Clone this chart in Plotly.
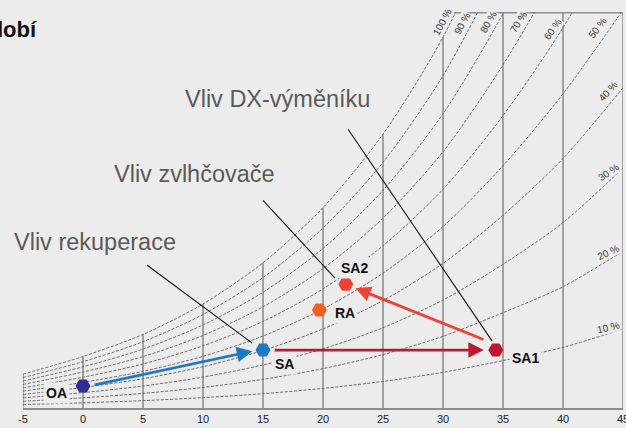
import plotly.graph_objects as go

# dry-bulb temperature, °C
TEMPS = [-5, 0, 5, 10, 15, 20, 25, 30, 35, 40, 45]

# humidity ratio (g/kg) of each relative-humidity curve at TEMPS
RH100 = [2.48, 3.78, 5.40, 7.63, 10.65, 14.70, 20.09, 27.21, 36.59, 47.9, 61.8]
RH90 = [2.23, 3.40, 4.86, 6.86, 9.57, 13.20, 18.02, 24.38, 32.74, 42.8, 55.0]
RH80 = [1.98, 3.02, 4.32, 6.09, 8.49, 11.70, 15.97, 21.58, 28.93, 37.7, 48.4]
RH70 = [1.73, 2.64, 3.77, 5.32, 7.42, 10.22, 13.93, 18.80, 25.17, 32.8, 41.9]
RH60 = [1.48, 2.26, 3.23, 4.56, 6.35, 8.74, 11.90, 16.05, 21.45, 27.9, 35.6]
RH50 = [1.24, 1.88, 2.69, 3.79, 5.28, 7.26, 9.89, 13.31, 17.77, 23.05, 29.2]
RH40 = [0.99, 1.51, 2.15, 3.03, 4.22, 5.80, 7.88, 10.61, 14.14, 18.3, 23.5]
RH30 = [0.74, 1.13, 1.61, 2.27, 3.16, 4.34, 5.89, 7.92, 10.54, 13.6, 17.6]
RH20 = [0.49, 0.75, 1.07, 1.51, 2.10, 2.89, 3.92, 5.26, 6.99, 8.9, 11.5]
RH10 = [0.25, 0.38, 0.54, 0.76, 1.05, 1.44, 1.95, 2.62, 3.48, 4.45, 5.8]

RH_LABELS = ["100 %", "90 %", "80 %", "70 %", "60 %", "50 %", "40 %", "30 %", "20 %", "10 %"]
RH_LABEL_X = [29.9, 31.6, 33.75, 36.25, 39.1, 42.9, 43.75, 43.75, 43.75, 43.75]
RH_LABEL_Y = [28.3, 28.2, 28.3, 28.3, 27.8, 27.9, 23.2, 17.3, 11.4, 5.9]
RH_LABEL_ANGLE = [-62, -62, -60, -58, -55, -52, -48, -35, -25, -13]

Y_TOP = 29.0
TOP_EDGE_START = 30.8   # where saturation curve leaves the frame

# air states
STATES = ["OA", "SA", "SA1", "RA", "SA2"]
STATE_T = [0.0, 15.0, 34.4, 19.7, 21.9]
STATE_W = [1.61, 4.25, 4.25, 7.18, 9.08]
STATE_COLORS = ["#2E3192", "#1F78C1", "#C1182F", "#F26122", "#EF4136"]
STATE_LABEL_T = [-2.2, 16.75, 36.85, 21.8, 22.6]
STATE_LABEL_W = [1.12, 3.2, 3.65, 6.95, 10.25]

# process arrows: tail -> tip
ARROW_TAIL_T = [0.85, 15.85, 33.5]
ARROW_TAIL_W = [1.68, 4.25, 4.98]
ARROW_TIP_T = [14.1, 33.4, 22.7]
ARROW_TIP_W = [4.17, 4.25, 8.79]
ARROW_COLORS = ["#1F78C1", "#C1182F", "#EF4136"]

# callouts (text left edge / centre in pixels of the picture)
CALLOUTS = ["Vliv rekuperace", "Vliv zvlhčovače", "Vliv DX-výměníku"]
CALLOUT_PX = [12, 112, 183]
CALLOUT_PY = [242, 174, 99]
LEADER_T0 = [5.35, 15.0, 22.1]
LEADER_W0 = [10.47, 15.23, 20.43]
LEADER_T1 = [14.1, 21.0, 34.1]
LEADER_W1 = [4.76, 9.52, 4.91]

BG = "#ECECEC"
GRID = "#8E8E8E"
FONT = "Liberation Sans, Arial"

# plot box in pixels
L, R, T, B = 23, 3, 12, 20
PW, PH = 626 - L - R, 428 - T - B

fig = go.Figure()

# dry-bulb lines up to the saturation curve
vx, vy = [], []
for t, top in zip(TEMPS, RH100):
    vx += [t, t, None]
    vy += [0, top, None]
fig.add_trace(go.Scatter(x=vx, y=vy, mode="lines",
                         line=dict(color=GRID, width=1.6), hoverinfo="skip"))
fig.add_trace(go.Scatter(x=[TOP_EDGE_START, TEMPS[-1]], y=[Y_TOP, Y_TOP], mode="lines",
                         line=dict(color=GRID, width=1.6), hoverinfo="skip"))

# relative humidity curves
for curve in [RH100, RH90, RH80, RH70, RH60, RH50, RH40, RH30, RH20, RH10]:
    fig.add_trace(go.Scatter(
        x=TEMPS, y=curve, mode="lines",
        line=dict(color="#6A6A6A", width=1, dash="3px,1.6px", shape="spline", smoothing=0.8),
        hoverinfo="skip",
    ))

# leader lines
for t0, w0, t1, w1 in zip(LEADER_T0, LEADER_W0, LEADER_T1, LEADER_W1):
    fig.add_trace(go.Scatter(x=[t0, t1], y=[w0, w1], mode="lines",
                             line=dict(color="#111111", width=1.1), hoverinfo="skip"))

# process arrows
for t0, w0, t1, w1, c in zip(ARROW_TAIL_T, ARROW_TAIL_W, ARROW_TIP_T, ARROW_TIP_W, ARROW_COLORS):
    fig.add_annotation(x=t1, y=w1, ax=t0, ay=w0, xref="x", yref="y", axref="x", ayref="y",
                       text="", showarrow=True, arrowhead=2, arrowsize=1.1,
                       arrowwidth=2.8, arrowcolor=c, standoff=0)

# state labels (mask the curves behind them)
for name, t, w in zip(STATES, STATE_LABEL_T, STATE_LABEL_W):
    fig.add_annotation(x=t, y=w, xref="x", yref="y", text="<b>%s</b>" % name,
                       showarrow=False, bgcolor=BG, borderpad=2,
                       font=dict(family=FONT, size=14, color="#111111"))

# air state markers
fig.add_trace(go.Scatter(
    x=STATE_T, y=STATE_W, mode="markers",
    marker=dict(symbol="hexagon2", size=15, color=STATE_COLORS, line=dict(width=0)),
    hoverinfo="skip",
))

# RH labels
for lab, t, w, a in zip(RH_LABELS, RH_LABEL_X, RH_LABEL_Y, RH_LABEL_ANGLE):
    fig.add_annotation(x=t, y=w, xref="x", yref="y", text=lab, textangle=a,
                       showarrow=False, bgcolor=BG, borderpad=0,
                       font=dict(family=FONT, size=10, color="#3A3A3A"))

# callout texts
for lab, px, py in zip(CALLOUTS, CALLOUT_PX, CALLOUT_PY):
    fig.add_annotation(x=(px - L) / PW, y=(PH + T - py) / PH, xref="paper", yref="paper",
                       text=lab, showarrow=False, xanchor="left", yanchor="middle",
                       font=dict(family=FONT, size=23.5, color="#5A5A5A"))

# title, cut by the left edge of the picture
fig.add_annotation(x=(39 - L) / PW, y=(PH + T - 30) / PH, xref="paper", yref="paper",
                   text="<b>Zimní období</b>", showarrow=False,
                   xanchor="right", yanchor="middle",
                   font=dict(family=FONT, size=22, color="#111111"))

fig.update_layout(
    width=626, height=428,
    paper_bgcolor=BG, plot_bgcolor=BG,
    margin=dict(l=L, r=R, t=T, b=B, autoexpand=False),
    showlegend=False,
    xaxis=dict(range=[-5, 45], tickvals=TEMPS, ticktext=[str(t) for t in TEMPS],
               showgrid=False, zeroline=False, automargin=False,
               showline=True, linecolor=GRID, linewidth=1.6, ticks="",
               ticklabeloverflow="allow",
               tickfont=dict(family=FONT, size=11, color="#222222"),
               fixedrange=True),
    yaxis=dict(range=[0, Y_TOP + 0.05], showgrid=False, zeroline=False, automargin=False,
               showticklabels=False, showline=False, fixedrange=True),
)

fig.write_html("out.html", config={"displayModeBar": False},
               post_script="document.body.style.margin='0';document.body.style.background='%s';" % BG)
